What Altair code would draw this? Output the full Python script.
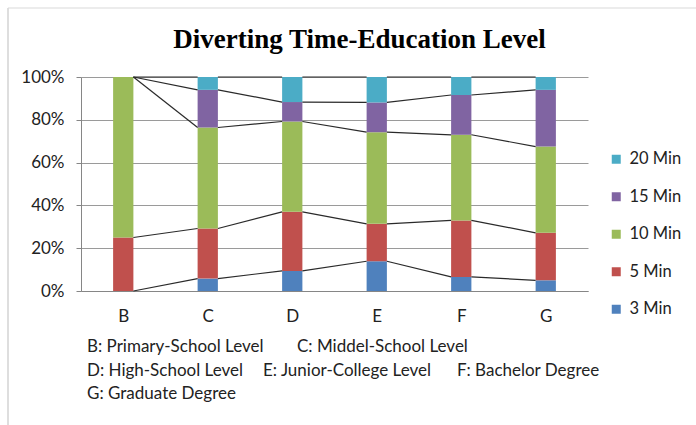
import altair as alt
import pandas as pd

# ---------------- data ----------------
cats = ["B", "C", "D", "E", "F", "G"]
series = ["3 Min", "5 Min", "10 Min", "15 Min", "20 Min"]
m3 = [0, 5.8, 9.4, 13.9, 6.6, 5.0]
m5 = [25, 23.4, 27.6, 17.5, 26.4, 22.2]
m10 = [75, 47.2, 42.2, 42.8, 40.0, 40.3]
m15 = [0, 17.6, 9.1, 13.9, 18.6, 26.5]
m20 = [0, 6.0, 11.7, 11.9, 8.4, 6.0]
colors = ["#4F81BD", "#C0504D", "#9BBB59", "#8064A2", "#4BACC6"]
y_ticks = [0, 20, 40, 60, 80, 100]
title_text = "Diverting Time-Education Level"
notes = ["B: Primary-School Level", "C: Middel-School Level",
         "D: High-School Level", "E: Junior-College Level", "F: Bachelor Degree",
         "G: Graduate Degree"]

rows = []
for k, (s, vals) in enumerate(zip(series, [m3, m5, m10, m15, m20])):
    for i, (c, v) in enumerate(zip(cats, vals)):
        rows.append({"cat": c, "idx": i, "series": s, "order": k, "value": v})
df = pd.DataFrame(rows)

HALF = 0.12  # half bar width in category units
W, H = 507, 214
FONT = "Lato"

label_expr = "[" + ",".join(f"'{c}'" for c in cats) + "][datum.value]"
xscale = alt.Scale(domain=[-0.5, len(cats) - 0.5], nice=False, zero=False)
yscale = alt.Scale(domain=[0, 100], nice=False)

base = alt.Chart(df).transform_stack(
    stack="value", groupby=["idx"], as_=["y0", "y1"],
    sort=[alt.SortField("order", order="ascending")]
)

bars = base.transform_calculate(
    xl=f"datum.idx - {HALF}", xr=f"datum.idx + {HALF}"
).mark_rect().encode(
    x=alt.X("xl:Q", scale=xscale,
            axis=alt.Axis(values=list(range(len(cats))), labelExpr=label_expr,
                          title=None, ticks=False, grid=False, domainColor="#868686",
                          labelFont=FONT, labelFontSize=17, labelColor="#222222",
                          labelPadding=17)),
    x2="xr:Q",
    y=alt.Y("y0:Q", scale=yscale,
            axis=alt.Axis(values=y_ticks, labelExpr="datum.value + '%'", title=None,
                          grid=True, gridColor="#9a9a9a", domainColor="#868686",
                          tickColor="#868686", tickSize=5, labelFont=FONT,
                          labelFontSize=17, labelColor="#222222", labelPadding=12)),
    y2="y1:Q",
    color=alt.Color("series:N",
                    scale=alt.Scale(domain=series[::-1], range=colors[::-1]),
                    legend=alt.Legend(orient="none", legendX=527, legendY=74,
                                      title=None, symbolType="square", symbolSize=81,
                                      symbolStrokeWidth=0, labelFont=FONT,
                                      labelFontSize=16.5, labelColor="#222222",
                                      rowPadding=20.5, labelOffset=5, padding=0)),
)

lines = base.transform_window(
    next_top="lead(y1)", groupby=["series"], sort=[alt.SortField("idx")]
).transform_filter("datum.next_top != null").transform_calculate(
    xa=f"datum.idx + {HALF}", xb=f"datum.idx + 1 - {HALF}"
).mark_rule(color="#2a2a2a", strokeWidth=1.2).encode(
    x=alt.X("xa:Q", scale=xscale), x2="xb:Q",
    y=alt.Y("y1:Q", scale=yscale), y2="next_top:Q",
)

one = pd.DataFrame({"a": [0]})

title = alt.Chart(one).mark_text(
    text=title_text, font="Liberation Serif", fontSize=27, fontWeight="bold",
    align="center", baseline="alphabetic", color="#000000"
).encode(x=alt.value(278.5), y=alt.value(-29))

note_pos = [(6, 270), (216, 270), (6, 294), (182, 294), (376, 294), (6, 317)]
note_layers = [
    alt.Chart(one).mark_text(text=t, font=FONT, fontSize=17, align="left",
                             baseline="middle", color="#222222")
    .encode(x=alt.value(px), y=alt.value(py))
    for t, (px, py) in zip(notes, note_pos)
]

border_left = alt.Chart(one).mark_rule(color="#bdbdbd", strokeWidth=1).encode(
    x=alt.value(-73), y=alt.value(-69), y2=alt.value(348))
border_top = alt.Chart(one).mark_rule(color="#d9d9d9", strokeWidth=1).encode(
    x=alt.value(-73), x2=alt.value(615), y=alt.value(-69))

chart = alt.layer(
    border_left, border_top, bars, lines, title, *note_layers
).properties(
    width=W, height=H,
    autosize=alt.AutoSizeParams(type="none"),
    padding={"left": 81, "top": 77, "right": 108, "bottom": 134},
    background="white",
).configure_view(stroke=None)

chart.save("out.html", embed_options={"renderer": "svg", "actions": False})
